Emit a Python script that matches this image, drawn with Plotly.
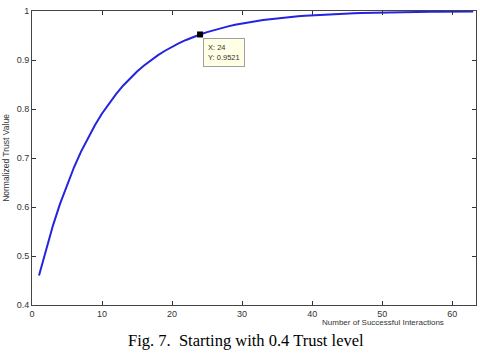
import plotly.graph_objects as go

interactions = list(range(1, 64))
trust = [0.4600, 0.5140, 0.5626, 0.6063, 0.6457, 0.6811, 0.7130, 0.7417, 0.7675, 0.7908,
         0.8117, 0.8305, 0.8475, 0.8627, 0.8765, 0.8888, 0.8999, 0.9099, 0.9189, 0.9270,
         0.9343, 0.9409, 0.9468, 0.9521, 0.9569, 0.9612, 0.9651, 0.9686, 0.9718, 0.9746,
         0.9771, 0.9794, 0.9815, 0.9833, 0.9850, 0.9865, 0.9878, 0.9891, 0.9902, 0.9911,
         0.9920, 0.9928, 0.9935, 0.9942, 0.9948, 0.9953, 0.9958, 0.9962, 0.9966, 0.9969,
         0.9972, 0.9975, 0.9977, 0.9980, 0.9982, 0.9984, 0.9985, 0.9987, 0.9988, 0.9989,
         0.9990, 0.9991, 0.9992]
tip_x = [24]
tip_y = [0.9521]
x_ticks = [0, 10, 20, 30, 40, 50, 60]
y_ticks = [0.4, 0.5, 0.6, 0.7, 0.8, 0.9, 1.0]
y_tick_text = ["0.4", "0.5", "0.6", "0.7", "0.8", "0.9", "1"]

L, R, T, B = 32, 476, 11, 305
W, H = 480, 356
pw, ph = R - L, B - T

fig = go.Figure()
fig.add_trace(go.Scatter(x=interactions, y=trust, mode="lines",
                         line=dict(color="#2323e0", width=2), showlegend=False))
fig.add_trace(go.Scatter(x=tip_x, y=tip_y, mode="markers",
                         marker=dict(color="black", size=6, symbol="square"),
                         showlegend=False))

tick_font = dict(family="Liberation Sans, Arial", size=9, color="#333333")
label_font = dict(family="Liberation Sans, Arial", size=8, color="#333333")
fig.update_xaxes(range=[0, 63.4], tickvals=x_ticks, ticks="inside", ticklen=4,
                 tickcolor="#333333", mirror="ticks", showline=True, linecolor="#444444",
                 linewidth=1, showgrid=False, zeroline=False, tickfont=tick_font)
fig.update_yaxes(range=[0.4, 1.0], tickvals=y_ticks, ticktext=y_tick_text, ticks="inside",
                 ticklen=4, tickcolor="#333333", mirror="ticks", showline=True,
                 linecolor="#444444", linewidth=1, showgrid=False, zeroline=False,
                 tickfont=tick_font,
                 title=dict(text="Normalized Trust Value", font=dict(label_font, size=8.5),
                            standoff=5))

fig.add_annotation(x=tip_x[0], y=tip_y[0], xref="x", yref="y",
                   text="X: 24<br>Y: 0.9521", showarrow=False,
                   xanchor="left", yanchor="top", xshift=3, yshift=-4,
                   align="left", bgcolor="#ffffe6", bordercolor="#a0a0a0",
                   borderwidth=1, borderpad=4,
                   font=dict(family="Liberation Sans, Arial", size=7.5, color="#333333"))
fig.add_annotation(x=(383 - L) / pw, y=(B - 322) / ph, xref="paper", yref="paper",
                   xanchor="center", yanchor="middle",
                   text="Number of Successful Interactions", showarrow=False,
                   font=label_font)
fig.add_annotation(text="Fig. 7.  Starting with 0.4 Trust level", showarrow=False,
                   xref="paper", yref="paper", x=(246 - L) / pw, y=(B - 340) / ph,
                   xanchor="center", yanchor="middle",
                   font=dict(family="Liberation Serif, Times New Roman", size=16.5,
                             color="black"))

fig.update_layout(width=W, height=H, margin=dict(l=L, r=W - R, t=T, b=H - B),
                  plot_bgcolor="white", paper_bgcolor="white")
fig.write_html("out.html")
